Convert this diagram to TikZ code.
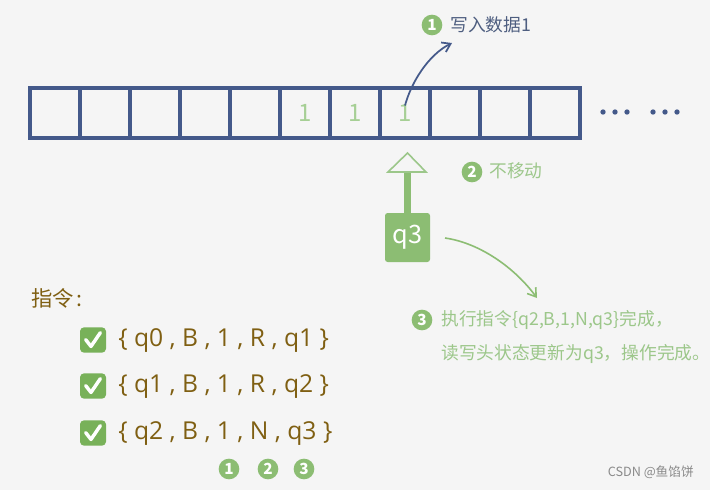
\documentclass[tikz,border=0pt]{standalone}
\usepackage{fontspec}
\setmainfont{Noto Sans CJK SC}
\newfontfamily\latinfont{Open Sans}
\usetikzlibrary{arrows.meta}
\definecolor{bgc}{HTML}{F5F5F5}
\definecolor{tapeblue}{HTML}{44598A}
\definecolor{labblue}{HTML}{4E5E80}
\definecolor{ngreen}{HTML}{8CBD73}
\definecolor{lgreen}{HTML}{9CC78A}
\definecolor{onegreen}{HTML}{A6CF95}
\definecolor{instbrown}{HTML}{7F5F12}
\definecolor{okgreen}{HTML}{78B159}
\definecolor{wmgray}{HTML}{8A8A8A}
\tikzset{
  cell/.style={draw=tapeblue, line width=2.6pt, minimum width=37.5pt, minimum height=37.5pt, inner sep=0pt},
  onetext/.style={text=onegreen, font=\fontsize{18}{18}\selectfont, inner sep=0pt},
  numcirc/.style={circle, fill=ngreen, text=white, minimum size=15.5pt, inner sep=0pt, font=\fontsize{11.5}{11.5}\selectfont\bfseries},
  labtext/.style={anchor=west, inner sep=0pt, font=\fontsize{13.3}{13.3}\selectfont},
  insttext/.style={anchor=west, inner sep=0pt, text=instbrown, font=\latinfont\fontsize{18.5}{18.5}\selectfont},
  okbox/.pic={\fill[okgreen, rounded corners=3pt] (-9.75pt,-9.5pt) rectangle (9.75pt,9.5pt);
    \draw[white, line width=2.6pt, line cap=round, line join=round] (-5.5pt,0.3pt) -- (-1.5pt,-4.8pt) -- (5.5pt,5.5pt);},
  barb/.style={-{Straight Barb[length=6pt, width=8pt]}}
}
\begin{document}
\begin{tikzpicture}[x=0.75pt, y=-0.75pt]
\useasboundingbox (0,0) rectangle (710,490);
\fill[bgc] (0,0) rectangle (710,490);
% tape
\foreach \i in {1,...,11} \node[cell] (c\i) at ({5+50*\i},113) {};
\node[onetext] (one6) at (c6.center) {1};
\node[onetext] (one7) at (c7.center) {1};
\node[onetext] (one8) at (c8.center) {1};
\foreach \x in {603,615,627,653,665,677} \fill[tapeblue] (\x,112) circle (2pt);
% label 1
\node[numcirc] (n1) at (432,25) {1};
\node[labtext, text=labblue] (l1) at (450,25) {写入数据1};
\coordinate (w1end) at (452,43);
\draw[tapeblue, line width=1.3pt, barb] ([yshift=-1pt]one8.north) .. controls (411,83) and (428,55) .. (w1end);
% head
\node[fill=ngreen, rounded corners=2pt, minimum width=33.75pt, minimum height=36.75pt, inner sep=0pt, text=white, font=\fontsize{19}{19}\selectfont] (q3) at (407.5,237.5) {q3};
\draw[ngreen, line width=5.25pt] (q3.north) -- (407.5,171);
\draw[lgreen, line width=1.2pt, line join=miter] (388,172) -- (407.5,153) -- (426,172) -- cycle;
% label 2
\node[numcirc] (n2) at (472,172) {2};
\node[labtext, text=lgreen] (l2) at (489,171) {不移动};
% curve to label 3
\coordinate (w3start) at (445,238);
\coordinate (w3end) at (537,298);
\draw[ngreen, line width=1.2pt, barb] (w3start) .. controls (480,243) and (515,268) .. (w3end);
% label 3
\node[numcirc] (n3) at (422,320) {3};
\node[labtext, text=lgreen] (l3a) at (441,320) {执行指令\{q2,B,1,N,q3\}完成，};
\node[labtext, text=lgreen] (l3b) at (441,354) {读写头状态更新为q3，操作完成。};
% instructions
\node[anchor=west, inner sep=0pt, text=instbrown, font=\fontsize{16}{16}\selectfont] (title) at (31,298) {指令\hspace{2pt}:};
\pic at (93,340) {okbox};
\pic at (93,386) {okbox};
\pic at (93,433) {okbox};
\node[insttext] (i1) at (118,341) {\{ q0 , B , 1 , R , q1 \}};
\node[insttext] (i2) at (118,387) {\{ q1 , B , 1 , R , q2 \}};
\node[insttext] (i3) at (118,434) {\{ q2 , B , 1 , N , q3 \}};
\node[numcirc] (m1) at (229,469) {1};
\node[numcirc] (m2) at (268,469) {2};
\node[numcirc] (m3) at (304,469) {3};
% watermark
\node[anchor=east, inner sep=0pt, text=wmgray, font=\fontsize{9.5}{9.5}\selectfont] (wm) at (694,472) {CSDN @鱼馅饼};
\end{tikzpicture}
\end{document}
